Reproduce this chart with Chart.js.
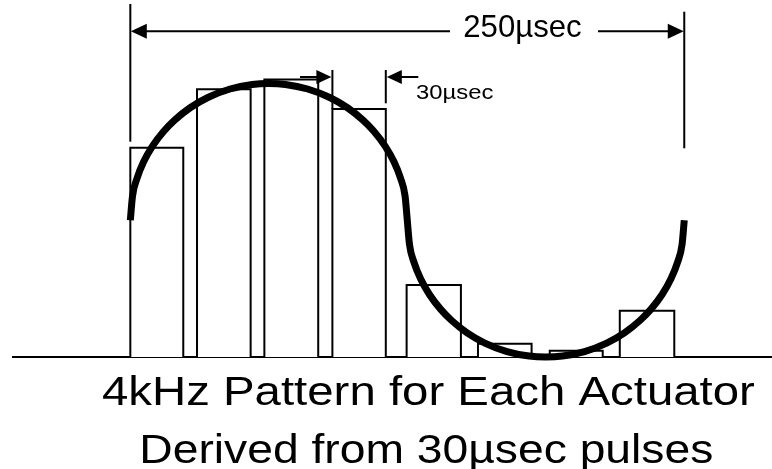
<!DOCTYPE html>
<html>
<head>
<meta charset="utf-8">
<script src="https://cdn.jsdelivr.net/npm/chart.js@4/dist/chart.umd.min.js"></script>
<style>
  html, body { margin: 0; padding: 0; background: #ffffff; }
  #wrap { width: 772px; height: 469px; }
</style>
</head>
<body>
<div id="wrap"><canvas id="c" width="772" height="469"></canvas></div>
<script>
// ---- data (time in µsec, amplitude in relative units) ----
const barStart  = [0, 30.1, 60.5, 91.2, 124.7, 156.9, 189.3, 220.9];
const barEnd    = [23.9, 54.3, 84.8, 115.3, 149.2, 181.1, 213.2, 245.5];
const barHeight = [153.1, 195.8, 203.0, 181.4, 52.7, 9.7, 4.6, 33.9];

const curveX = [0, 1, 3, 6, 10, 15, 20, 27, 35, 45, 55, 62.5, 70, 80, 90, 98, 105, 110, 115, 119, 122, 124, 125,
                126, 128, 131, 135, 140, 145, 152, 160, 170, 180, 187.5, 195, 205, 215, 223, 230, 235, 240, 244, 247, 249, 250];
const curveY = [100, 117.8, 130.6, 142.8, 154.3, 165.0, 173.3, 182.3, 189.8, 196.0, 199.3, 200, 199.3, 196.0, 189.8, 182.3, 173.3, 165.0, 154.3, 142.8, 130.6, 117.8, 100,
                82.2, 69.4, 57.2, 45.7, 35.0, 26.7, 17.7, 10.2, 4.0, 0.7, 0, 0.7, 4.0, 10.2, 17.7, 26.7, 35.0, 45.7, 57.2, 69.4, 82.2, 100];

const periodLabel = '250µsec';
const pulseLabel  = '30µsec';
const periodStart = 0, periodEnd = 250;
const pulseIndex  = 3;
const titleLines  = ['4kHz Pattern for Each Actuator', 'Derived from 30µsec pulses'];

// ---- datasets ----
const barSets = barStart.map((s, i) => ({
  type: 'line',
  data: [{x: s, y: 0}, {x: s, y: barHeight[i]}, {x: barEnd[i], y: barHeight[i]}, {x: barEnd[i], y: 0}],
  borderColor: '#000', borderWidth: 2, backgroundColor: '#fff', fill: 'origin',
  pointRadius: 0, tension: 0, order: 2, clip: false, borderJoinStyle: 'miter'
}));
const curveSet = {
  type: 'line',
  data: curveX.map((x, i) => ({x: x, y: curveY[i]})),
  borderColor: '#000', borderWidth: 7, fill: false, pointRadius: 0,
  cubicInterpolationMode: 'monotone', borderCapStyle: 'butt', order: 0, clip: false
};

const FONT = '"Liberation Sans", Arial, Helvetica, sans-serif';
function stretchText(ctx, text, cx, baseY, size, targetW) {
  ctx.save();
  ctx.font = size + 'px ' + FONT;
  const w = ctx.measureText(text).width;
  ctx.translate(cx, baseY);
  ctx.scale(targetW / w, 1);
  ctx.textAlign = 'center';
  ctx.textBaseline = 'alphabetic';
  ctx.fillStyle = '#000';
  ctx.fillText(text, 0, 0);
  ctx.restore();
}
function line(ctx, x1, y1, x2, y2, w) {
  ctx.beginPath(); ctx.lineWidth = w; ctx.moveTo(x1, y1); ctx.lineTo(x2, y2); ctx.stroke();
}
function arrowHead(ctx, tipX, y, dir, len, half) {
  ctx.beginPath();
  ctx.moveTo(tipX, y);
  ctx.lineTo(tipX - dir * len, y - half);
  ctx.lineTo(tipX - dir * len, y + half);
  ctx.closePath(); ctx.fill();
}

const annot = {
  id: 'annot',
  beforeDatasetsDraw(chart) {
    const ctx = chart.ctx, a = chart.chartArea, ys = chart.scales.y;
    ctx.save();
    ctx.strokeStyle = '#000';
    line(ctx, a.left, ys.getPixelForValue(0), a.right, ys.getPixelForValue(0), 2);
    ctx.restore();
  },
  afterDatasetsDraw(chart) {
    const ctx = chart.ctx, xs = chart.scales.x, ys = chart.scales.y;
    ctx.save();
    ctx.strokeStyle = '#000'; ctx.fillStyle = '#000'; ctx.lineCap = 'butt';
    const x0 = xs.getPixelForValue(periodStart), x1 = xs.getPixelForValue(periodEnd);
    // extension lines
    line(ctx, x0, 4, x0, 141.7, 2);
    line(ctx, x1, 11.7, x1, 148.3, 2);
    // dimension line with text gap
    const dy = 31.2;
    line(ctx, x0 + 14, dy, 450, dy, 2);
    line(ctx, 598, dy, x1 - 14, dy, 2);
    arrowHead(ctx, x0 + 0.5, dy, -1, 16, 7.5);
    arrowHead(ctx, x1 - 0.5, dy, 1, 16, 7.5);
    stretchText(ctx, periodLabel, 522.5, 36.6, 30.5, 118.4);
    // 30µsec pulse marker
    const pl = xs.getPixelForValue(barStart[pulseIndex]);
    const pr = xs.getPixelForValue(barEnd[pulseIndex]);
    const ptop = ys.getPixelForValue(barHeight[pulseIndex]);
    const ay = 77;
    line(ctx, pl, 70, pl, ptop, 2);
    line(ctx, pr, 70, pr, 103.3, 2);
    line(ctx, 300, ay, pl - 14, ay, 2);
    arrowHead(ctx, pl - 1, ay, 1, 15, 7);
    line(ctx, pr + 14, ay, 418.3, ay, 2);
    arrowHead(ctx, pr + 1, ay, -1, 15, 7);
    stretchText(ctx, pulseLabel, 454.7, 99.2, 20.5, 77.3);
    // caption
    stretchText(ctx, titleLines[0], 428.4, 404.6, 41, 653);
    stretchText(ctx, titleLines[1], 426.3, 463.3, 41, 574);
    ctx.restore();
  }
};

new Chart(document.getElementById('c'), {
  type: 'line',
  data: { datasets: [curveSet].concat(barSets) },
  options: {
    responsive: false, animation: false, devicePixelRatio: 1,
    layout: { padding: { left: 12, right: 0, top: 0, bottom: 112 } },
    plugins: { legend: { display: false }, tooltip: { enabled: false }, title: { display: false } },
    scales: {
      x: { type: 'linear', display: false, min: -53.4, max: 289.6 },
      y: { type: 'linear', display: false, min: 0, max: 261.1 }
    }
  },
  plugins: [annot]
});
</script>
</body>
</html>
